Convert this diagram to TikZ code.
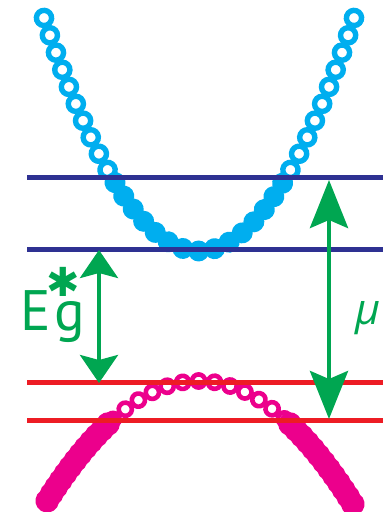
\documentclass[tikz,border=0pt]{standalone}
\usepackage{fontspec}
\setmainfont{PT Sans}
\newfontfamily\mufont{Open Sans}
\newfontfamily\starfont{DejaVu Sans}
\usetikzlibrary{decorations.markings,arrows.meta}
\definecolor{cnavy}{HTML}{2E3192}
\definecolor{cred}{HTML}{ED1C24}
\definecolor{cblue}{HTML}{00AEEF}
\definecolor{cmag}{HTML}{EC008C}
\definecolor{cgreen}{HTML}{00A651}
\tikzset{
  blueopen/.style={decorate,decoration={markings,
    mark=between positions 0 and 1 step #1 with {\draw[cblue,line width=5.4pt] (0,0) circle[radius=7.6pt];}}},
  bluefill/.style={decorate,decoration={markings,
    mark=between positions 0 and 1 step #1 with {\fill[cblue] (0,0) circle[radius=10.5pt];}}},
  magopen/.style={decorate,decoration={markings,
    mark=between positions 0 and 1 step #1 with {\draw[cmag,line width=4.6pt] (0,0) circle[radius=6.6pt];}}},
  magfill/.style={decorate,decoration={markings,
    mark=between positions 0 and 1 step #1 with {\fill[cmag] (0,0) circle[radius=11.8pt];}}},
  level/.style={line width=5pt},
  garrow/.style={cgreen,line width=4pt},
  gtext/.style={cgreen,inner sep=0pt},
}
\begin{document}
\begin{tikzpicture}[x=1pt,y=-1pt]
\useasboundingbox (0,0) rectangle (385,512);
% blue band
\path[blueopen=0.1105] plot[domain=44:108,samples=60] (\x,{251-0.97*((\x-199)/10)*((\x-199)/10)});
\path[blueopen=0.1105] plot[domain=354:290,samples=60] (\x,{251-0.97*((\x-199)/10)*((\x-199)/10)});
\path[bluefill=0.0712] plot[domain=115:283,samples=80] (\x,{251-0.97*((\x-199)/10)*((\x-199)/10)});
% magenta band
\path[magopen=0.0830] plot[domain=113:285,samples=80] (\x,{381+0.52*((\x-199)/10)*((\x-199)/10)});
\path[magfill=0.0830] plot[domain=108:47,samples=60] (\x,{381+0.52*((\x-199)/10)*((\x-199)/10)});
\path[magfill=0.0830] plot[domain=290:353,samples=60] (\x,{381+0.52*((\x-199)/10)*((\x-199)/10)});
% levels
\coordinate (n1l) at (27,177); \coordinate (n1r) at (383,177);
\coordinate (n2l) at (27,249); \coordinate (n2r) at (383,249);
\coordinate (r1l) at (27,382); \coordinate (r1r) at (383,382);
\coordinate (r2l) at (27,420); \coordinate (r2r) at (383,420);
\draw[level,cnavy] (n1l) -- (n1r);
\draw[level,cnavy] (n2l) -- (n2r);
\draw[level,cred] (r1l) -- (r1r);
\draw[level,cred] (r2l) -- (r2r);
% arrows
\coordinate (ga) at (99,250); \coordinate (gb) at (99,383);
\coordinate (ma) at (329,180); \coordinate (mb) at (329,419);
\draw[garrow,{Stealth[length=28pt,width=38pt,inset=5pt]}-{Stealth[length=28pt,width=38pt,inset=5pt]}] (ga) -- (gb);
\draw[garrow,line width=4.5pt,{Stealth[length=48pt,width=38pt,inset=8pt]}-{Stealth[length=48pt,width=38pt,inset=8pt]}] (ma) -- (mb);
% labels
\node[gtext,anchor=base west,font=\fontsize{57pt}{60pt}\selectfont] (E) at (20,330) {E};
\node[gtext,anchor=base west,font=\fontsize{57pt}{60pt}\selectfont] (g) at (54,330) {g};
\node[gtext,font=\starfont\fontsize{40pt}{42pt}\selectfont] (star) at (63.5,281.5) {✱};
\node[gtext,font=\mufont\itshape\fontsize{43pt}{45pt}\selectfont] (mu) at (368,318) {μ};
\end{tikzpicture}
\end{document}
